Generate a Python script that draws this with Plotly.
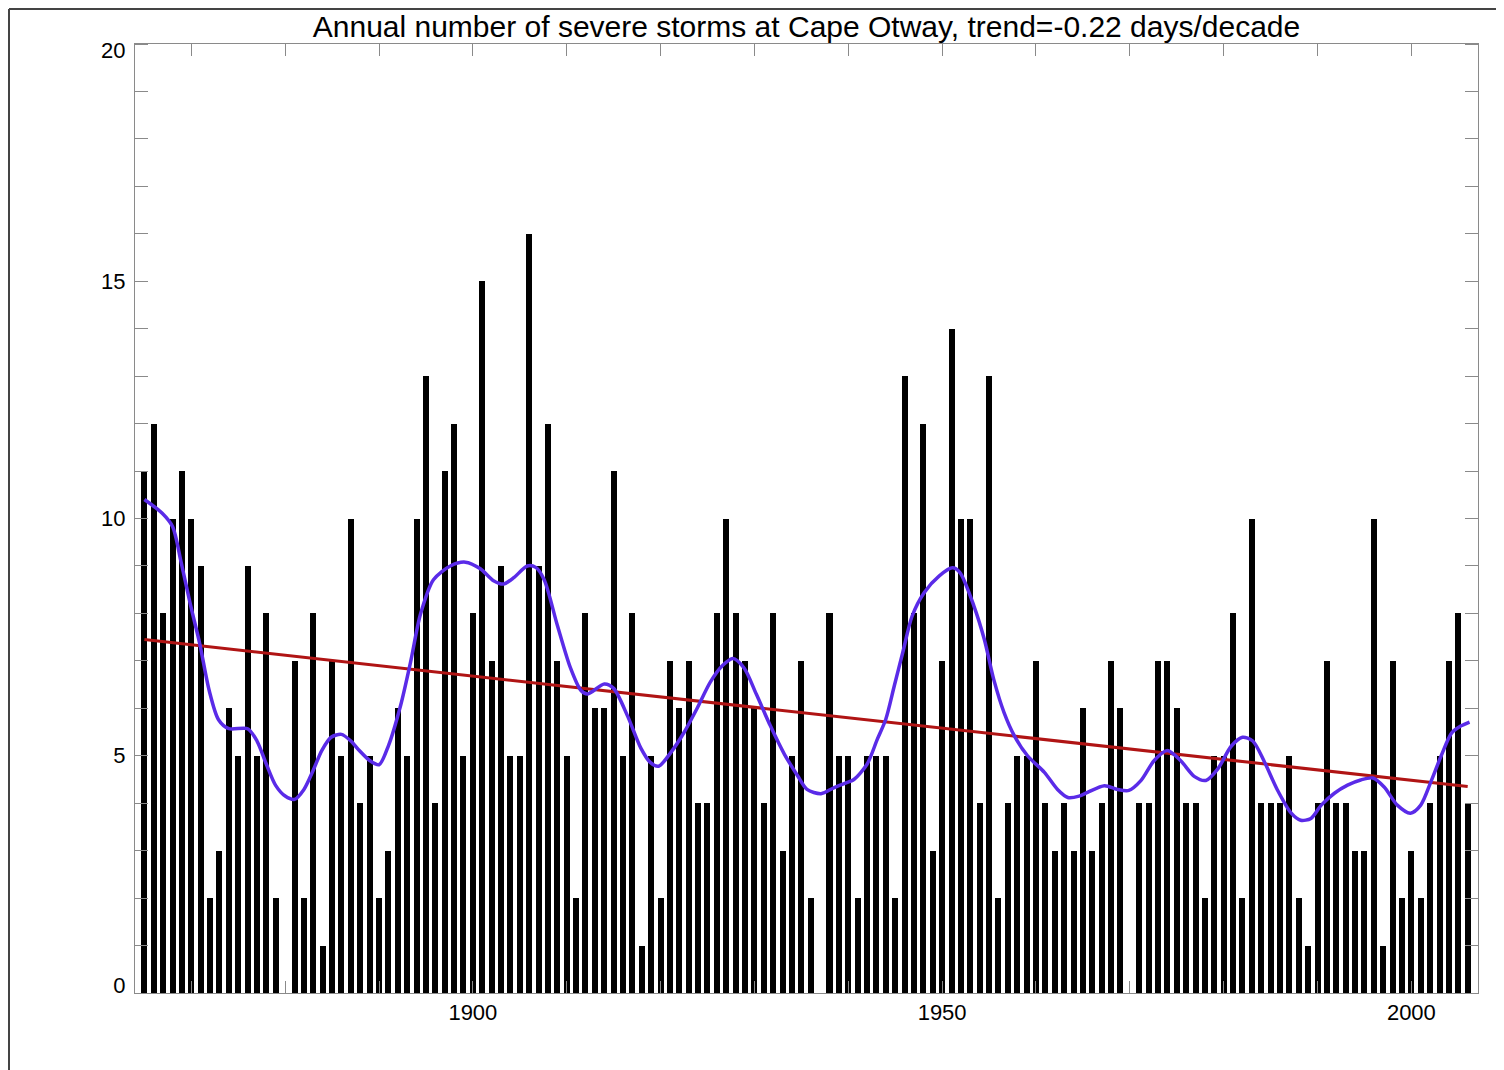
import plotly.graph_objects as go

# ---- data ----
years = list(range(1865, 2007))
storms = [
    11, 12, 8, 10, 11, 10, 9, 2, 3, 6, 5, 9, 5, 8, 2, 0, 7, 2, 8, 1, 7, 5, 10,
    4, 5, 2, 3, 6, 5, 10, 13, 4, 11, 12, 5, 8, 15, 7, 9, 5, 5, 16, 9, 12, 7, 5, 2,
    8, 6, 6, 11, 5, 8, 1, 5, 2, 7, 6, 7, 4, 4, 8, 10, 8, 7, 6, 4, 8, 3, 5, 7,
    2, 0, 8, 5, 5, 2, 5, 5, 5, 2, 13, 8, 12, 3, 7, 14, 10, 10, 4, 13, 2, 4, 5,
    5, 7, 4, 3, 4, 3, 6, 3, 4, 7, 6, 0, 4, 4, 7, 7, 6, 4, 4, 2, 5, 5, 8, 2,
    10, 4, 4, 4, 5, 2, 1, 4, 7, 4, 4, 3, 3, 10, 1, 7, 2, 3, 2, 4, 5, 7, 8, 4,
]

smooth_years = [
    1865.0, 1866.9, 1868.0, 1868.9, 1869.9, 1870.9, 1871.9, 1872.9, 1874.0, 1876.0,
    1877.0, 1878.0, 1879.0, 1880.0, 1881.0, 1882.0, 1883.0, 1883.9, 1884.9, 1886.0,
    1887.0, 1887.9, 1889.0, 1890.0, 1891.0, 1892.3, 1893.4, 1894.4, 1895.8, 1897.6,
    1899.2, 1900.8, 1902.2, 1903.3, 1904.4, 1905.8, 1906.7, 1907.6, 1909.0, 1910.4,
    1911.5, 1912.2, 1914.0, 1915.0, 1916.5, 1917.9, 1918.9, 1919.8, 1921.1, 1922.5,
    1923.9, 1925.3, 1926.6, 1927.7, 1928.9, 1930.2, 1931.7, 1933.2, 1934.6, 1935.6,
    1937.1, 1938.5, 1939.9, 1940.6, 1942.0, 1943.1, 1944.0, 1944.9, 1945.8, 1946.8,
    1948.1, 1949.7, 1951.1, 1951.9, 1953.4, 1954.5, 1955.5, 1956.6, 1957.7, 1959.1,
    1960.9, 1962.3, 1963.4, 1964.6, 1965.5, 1967.3, 1968.7, 1969.9, 1971.2, 1972.6,
    1974.0, 1975.4, 1976.9, 1978.1, 1979.4, 1980.8, 1982.0, 1983.1, 1984.3, 1985.7,
    1987.2, 1988.2, 1989.3, 1990.4, 1991.8, 1993.2, 1994.6, 1995.9, 1997.1, 1998.5,
    1999.9, 2001.0, 2002.1, 2003.2, 2004.3, 2005.3, 2006.2,
]
smooth_vals = [
    10.4, 10.11, 9.83, 9.09, 8.19, 7.36, 6.38, 5.76, 5.57, 5.57,
    5.31, 4.82, 4.37, 4.15, 4.08, 4.29, 4.7, 5.11, 5.39, 5.45,
    5.31, 5.11, 4.9, 4.81, 5.21, 6.06, 7.01, 7.97, 8.71, 9.0,
    9.08, 8.94, 8.69, 8.62, 8.76, 9.0, 8.97, 8.71, 7.75, 6.85,
    6.38, 6.3, 6.51, 6.42, 5.83, 5.16, 4.86, 4.78, 5.07, 5.49,
    6.0, 6.55, 6.9, 7.05, 6.85, 6.3, 5.63, 5.03, 4.58, 4.29,
    4.2, 4.33, 4.44, 4.5, 4.82, 5.35, 5.77, 6.47, 7.17, 7.94,
    8.44, 8.79, 8.96, 8.86, 8.15, 7.45, 6.61, 5.91, 5.42, 5.0,
    4.65, 4.29, 4.12, 4.15, 4.23, 4.37, 4.29, 4.27, 4.48, 4.9,
    5.11, 4.9, 4.56, 4.48, 4.73, 5.2, 5.39, 5.31, 4.89, 4.29,
    3.79, 3.64, 3.68, 3.96, 4.21, 4.38, 4.49, 4.53, 4.34, 3.96,
    3.79, 3.96, 4.46, 5.01, 5.48, 5.63, 5.71,
]

trend_years = [1865, 2006]
trend_vals = [7.45, 4.35]

x_major = [1900, 1950, 2000]
# y tick labels: the end labels sit slightly inside the frame in the reference
y_label_pos = [0.17, 5, 10, 15, 19.87]
y_label_text = ["0", "5", "10", "15", "20"]

title_text = "Annual number of severe storms at Cape Otway, trend=-0.22 days/decade"

FONT = "Liberation Sans, Arial, Helvetica, sans-serif"
AXIS_COL = "#8a8a8a"

# figure is placed 8px in from the page edges by the page's body margin
W, H = 1496, 1062
L, T, R, B = 127, 36, 26, 77
PW, PH = W - L - R, H - T - B

fig = go.Figure()
fig.add_trace(go.Bar(x=years, y=storms, width=0.64,
                     marker=dict(color="black", line=dict(width=0)),
                     showlegend=False))
fig.add_trace(go.Scatter(x=trend_years, y=trend_vals, mode="lines",
                         line=dict(color="#b01414", width=3),
                         showlegend=False))
fig.add_trace(go.Scatter(x=smooth_years, y=smooth_vals, mode="lines",
                         line=dict(color="#5a2be8", width=3.5, shape="spline", smoothing=0.8),
                         showlegend=False))

fig.update_layout(
    width=W, height=H,
    margin=dict(l=L, r=R, t=T, b=B),
    paper_bgcolor="white", plot_bgcolor="white",
    font=dict(family=FONT, color="black"),
    bargap=0,
    title=dict(text=title_text, x=(L + PW / 2) / W, xanchor="center",
               xref="container", y=1 - 18 / H, yanchor="middle", yref="container",
               font=dict(size=30, family=FONT, color="black")),
    xaxis=dict(range=[1864, 2007.1], tickmode="array", tickvals=x_major,
               ticks="inside", ticklen=12, tickcolor=AXIS_COL, tickwidth=1,
               minor=dict(tickmode="linear", tick0=1870, dtick=10, ticks="inside",
                          ticklen=12, tickcolor=AXIS_COL, tickwidth=1),
               showgrid=False, zeroline=False, showline=True, linecolor=AXIS_COL,
               linewidth=1, mirror="ticks",
               tickfont=dict(size=22, family=FONT, color="black"),
               ticklabelstandoff=0),
    yaxis=dict(range=[0, 20], tickmode="array", tickvals=y_label_pos,
               ticktext=y_label_text, ticks="",
               minor=dict(tickmode="linear", tick0=0, dtick=1, ticks="inside",
                          ticklen=13, tickcolor=AXIS_COL, tickwidth=1),
               showgrid=False, zeroline=False, showline=True, linecolor=AXIS_COL,
               linewidth=1, mirror="ticks",
               tickfont=dict(size=22, family=FONT, color="black"),
               ticklabelstandoff=4),
)

# outer frame of the figure (left and top edges visible in the reference)
fx = (1 - L) / PW
fy = 1 + (T - 1) / PH
fig.add_shape(type="line", xref="paper", yref="paper",
              x0=fx, x1=fx, y0=-(B + 5) / PH, y1=fy,
              line=dict(color="#444444", width=2))
fig.add_shape(type="line", xref="paper", yref="paper",
              x0=fx, x1=1 + (R + 5) / PW, y0=fy, y1=fy,
              line=dict(color="#444444", width=2))

fig.write_html("out.html")
